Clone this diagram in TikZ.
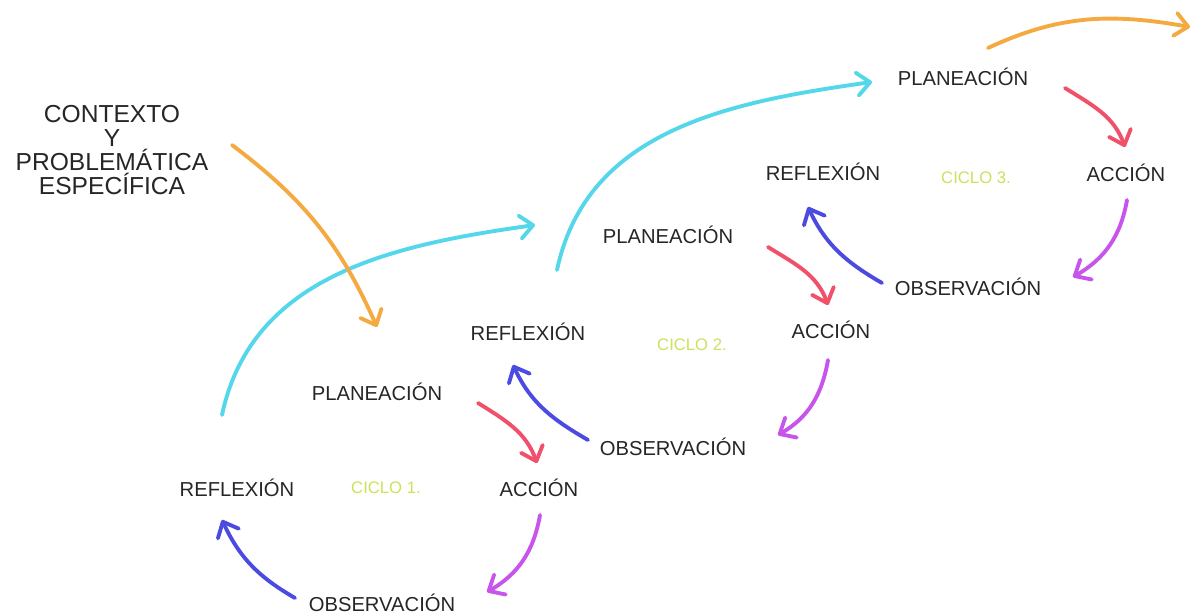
\documentclass[tikz,border=0pt]{standalone}
\usepackage{fontspec}
\setmainfont{Liberation Sans}
\usetikzlibrary{arrows.meta,calc}
\definecolor{naranja}{RGB}{245,170,65}
\definecolor{cian}{RGB}{85,215,235}
\definecolor{rojo}{RGB}{240,80,105}
\definecolor{violeta}{RGB}{200,85,235}
\definecolor{azul}{RGB}{75,75,225}
\definecolor{verdeclaro}{RGB}{205,225,90}
\tikzset{
  >={Straight Barb[length=2.6mm,width=4.6mm,round]},
  etapa/.style={font=\fontsize{11.5}{13}\selectfont, inner sep=2pt, text=black!85},
  ciclo/.style={font=\fontsize{9.5}{11}\selectfont, inner sep=2pt, text=verdeclaro},
  contexto/.style={font=\fontsize{14}{13.6}\selectfont, align=center, text=black!85},
  flecha/.style={->, line width=2.2pt, line cap=round, draw=#1},
}

\begin{document}
\begin{tikzpicture}[x=0.02cm, y=0.02cm]
    \fill[white] (0,0) rectangle (1193,615);
    \useasboundingbox (0,0) rectangle (1193,615);
    % Contexto
    \node[contexto] (ctx) at (112,465) {CONTEXTO\\ Y\\ PROBLEMÁTICA\\ ESPECÍFICA};
    % Ciclo 1
    \node[etapa] (plan1) at (377,223) {PLANEACIÓN};
    \node[etapa] (acc1)  at (539,127) {ACCIÓN};
    \node[etapa] (obs1)  at (382,12)  {OBSERVACIÓN};
    \node[etapa] (refl1) at (237,127) {REFLEXIÓN};
    \node[ciclo] (c1)    at (386,127) {CICLO 1.};
    % Ciclo 2
    \node[etapa] (plan2) at (668,380) {PLANEACIÓN};
    \node[etapa] (acc2)  at (831,285) {ACCIÓN};
    \node[etapa] (obs2)  at (673,168) {OBSERVACIÓN};
    \node[etapa] (refl2) at (528,283) {REFLEXIÓN};
    \node[ciclo] (c2)    at (692,270) {CICLO 2.};
    % Ciclo 3
    \node[etapa] (plan3) at (963,538) {PLANEACIÓN};
    \node[etapa] (acc3)  at (1126,442) {ACCIÓN};
    \node[etapa] (obs3)  at (968,328) {OBSERVACIÓN};
    \node[etapa] (refl3) at (823,443) {REFLEXIÓN};
    \node[ciclo] (c3)    at (976,437) {CICLO 3.};
    \coordinate (sigue) at (1190,588);
    % Flechas ciclo 1
    \draw[flecha=rojo]    ($(plan1)+(101,-11)$) to[out=-32,in=110] ($(acc1)+(-2,25)$);
    \draw[flecha=violeta] ($(acc1)+(1,-27)$)    to[out=-100,in=30] ($(obs1)+(105,11)$);
    \draw[flecha=azul]    ($(obs1)+(-87,5)$)    to[out=150,in=-65] ($(refl1)+(-15,-32)$);
    \draw[flecha=cian]    ($(refl1)+(-15,73)$)  to[out=78,in=188]  ($(plan2)+(-133,10)$);
    % Flechas ciclo 2
    \draw[flecha=rojo]    ($(plan2)+(100,-12)$) to[out=-32,in=110] ($(acc2)+(-3,25)$);
    \draw[flecha=violeta] ($(acc2)+(-3,-30)$)   to[out=-100,in=30] ($(obs2)+(105,12)$);
    \draw[flecha=azul]    ($(obs2)+(-85,7)$)    to[out=150,in=-65] ($(refl2)+(-15,-33)$);
    \draw[flecha=cian]    ($(refl2)+(29,62)$)   to[out=78,in=188]  ($(plan3)+(-91,-5)$);
    % Flechas ciclo 3
    \draw[flecha=rojo]    ($(plan3)+(102,-11)$) to[out=-32,in=110] ($(acc3)+(-1,26)$);
    \draw[flecha=violeta] ($(acc3)+(1,-27)$)    to[out=-100,in=30] ($(obs3)+(105,10)$);
    \draw[flecha=azul]    ($(obs3)+(-86,4)$)    to[out=150,in=-65] ($(refl3)+(-15,-35)$);
    % Entrada y salida
    \draw[flecha=naranja] ($(ctx)+(120,5)$)     to[out=-37,in=114] ($(plan1)+(0,65)$);
    \draw[flecha=naranja] ($(plan3)+(25,29)$)   to[out=25,in=170]  (sigue);
\end{tikzpicture}
\end{document}
